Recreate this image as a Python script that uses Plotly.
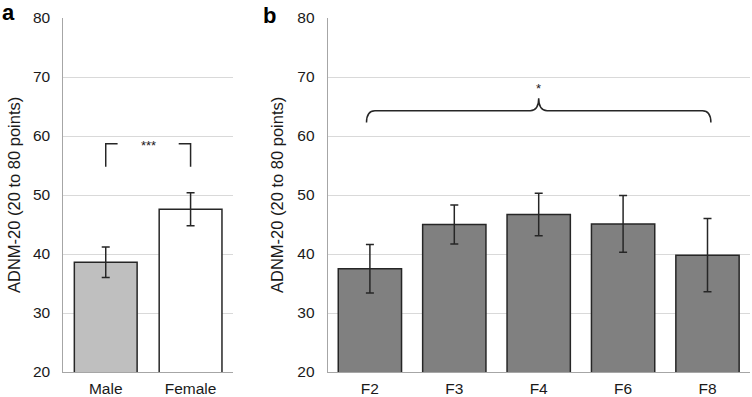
import plotly.graph_objects as go

# ---- data ----
sex_categories = ["Male", "Female"]
sex_means = [38.6, 47.6]
sex_err = [2.6, 2.8]
sex_colors = ["#bfbfbf", "#ffffff"]

fam_categories = ["F2", "F3", "F4", "F6", "F8"]
fam_means = [37.5, 45.0, 46.7, 45.1, 39.8]
fam_err = [4.1, 3.3, 3.6, 4.8, 6.2]
fam_color = "#808080"

y_ticks = [20, 30, 40, 50, 60, 70, 80]
y_title = "ADNM-20 (20 to 80 points)"

# significance annotations (data units)
sig_a_label = "***"
sig_a_top = 58.7
sig_a_bottom = 54.8
sig_b_label = "*"
sig_b_line = 64.3
sig_b_end = 62.3
sig_b_peak = 66.4

FONT = "Liberation Sans, Arial, sans-serif"
EDGE = "#262626"

xa = list(range(len(sex_categories)))
xb = list(range(len(fam_categories)))

fig = go.Figure()
fig.add_trace(go.Bar(
    x=xa, y=sex_means,
    marker=dict(color=sex_colors, line=dict(color=EDGE, width=1.5)),
    error_y=dict(type="data", array=sex_err, color=EDGE, thickness=1.5, width=4),
    width=0.74, xaxis="x", yaxis="y", showlegend=False,
))
fig.add_trace(go.Bar(
    x=xb, y=fam_means,
    marker=dict(color=fam_color, line=dict(color=EDGE, width=1.5)),
    error_y=dict(type="data", array=fam_err, color=EDGE, thickness=1.5, width=4),
    width=0.75, xaxis="x2", yaxis="y2", showlegend=False,
))

axis_common_y = dict(
    range=[20, 80], tickvals=y_ticks, showgrid=True, gridcolor="#d9d9d9", gridwidth=1,
    showline=True, linecolor="#a6a6a6", linewidth=1, zeroline=False, automargin=False,
    ticks="outside", ticklen=9, tickcolor="rgba(0,0,0,0)",
    tickfont=dict(family=FONT, size=15.5, color="#1a1a1a"), fixedrange=True,
)
axis_common_x = dict(
    showgrid=False, showline=True, linecolor="#a6a6a6", linewidth=1, zeroline=False,
    automargin=False, ticks="outside", ticklen=2, tickcolor="rgba(0,0,0,0)",
    tickfont=dict(family=FONT, size=15.5, color="#1a1a1a"),
)

W, H = 752, 397
fig.update_layout(
    width=W, height=H,
    margin=dict(l=0, r=0, t=18, b=25, autoexpand=False),
    paper_bgcolor="white", plot_bgcolor="white",
    xaxis=dict(domain=[63.3 / W, 233 / W], range=[-0.5, len(xa) - 0.5],
               tickvals=xa, ticktext=sex_categories, anchor="y", **axis_common_x),
    yaxis=dict(anchor="x", **axis_common_y),
    xaxis2=dict(domain=[327.7 / W, 749.7 / W], range=[-0.5, len(xb) - 0.5],
                tickvals=xb, ticktext=fam_categories, anchor="y2", **axis_common_x),
    yaxis2=dict(anchor="x2", **axis_common_y),
    bargap=0.26,
)

# bracket for panel a
left_x, right_x = xa[0], xa[-1]
arm = 0.14
for xs in ([left_x, left_x, left_x + arm], [right_x, right_x, right_x - arm]):
    path = f"M {xs[0]},{sig_a_bottom} L {xs[1]},{sig_a_top} L {xs[2]},{sig_a_top}"
    fig.add_shape(type="path", path=path, xref="x", yref="y",
                  line=dict(color=EDGE, width=1.5))
fig.add_annotation(x=(left_x + right_x) / 2, y=sig_a_top - 0.3, text=sig_a_label,
                   xref="x", yref="y", showarrow=False,
                   font=dict(family=FONT, size=13, color="#1a1a1a"))

# brace for panel b
x0, x1 = xb[0] - 0.04, xb[-1] + 0.04
xm = (xb[0] + xb[-1]) / 2
r = 0.1
brace = (f"M {x0},{sig_b_end} Q {x0},{sig_b_line} {x0 + r},{sig_b_line} "
         f"L {xm - r},{sig_b_line} Q {xm},{sig_b_line} {xm},{sig_b_peak} "
         f"Q {xm},{sig_b_line} {xm + r},{sig_b_line} "
         f"L {x1 - r},{sig_b_line} Q {x1},{sig_b_line} {x1},{sig_b_end}")
fig.add_shape(type="path", path=brace, xref="x2", yref="y2",
              line=dict(color=EDGE, width=1.5))
fig.add_annotation(x=xm, y=sig_b_peak + 1.6, text=sig_b_label, xref="x2", yref="y2",
                   showarrow=False, font=dict(family=FONT, size=13, color="#1a1a1a"))

# y axis titles
for xp in (14 / W, 277 / W):
    fig.add_annotation(x=xp, y=0.5, xref="paper", yref="paper", text=y_title,
                       textangle=-90, showarrow=False, xanchor="center", yanchor="middle",
                       font=dict(family=FONT, size=16.5, color="#1a1a1a"))

# panel letters
fig.add_annotation(x=0, y=1 + 5 / 354, xref="paper", yref="paper", text="<b>a</b>",
                   showarrow=False, xanchor="left", yanchor="middle",
                   font=dict(family=FONT, size=22, color="black"))
fig.add_annotation(x=261 / W, y=1 + 2 / 354, xref="paper", yref="paper", text="<b>b</b>",
                   showarrow=False, xanchor="left", yanchor="middle",
                   font=dict(family=FONT, size=22, color="black"))

fig.write_html("out.html", config={"displayModeBar": False},
               post_script="document.body.style.margin='0px';document.body.style.overflow='hidden';")
